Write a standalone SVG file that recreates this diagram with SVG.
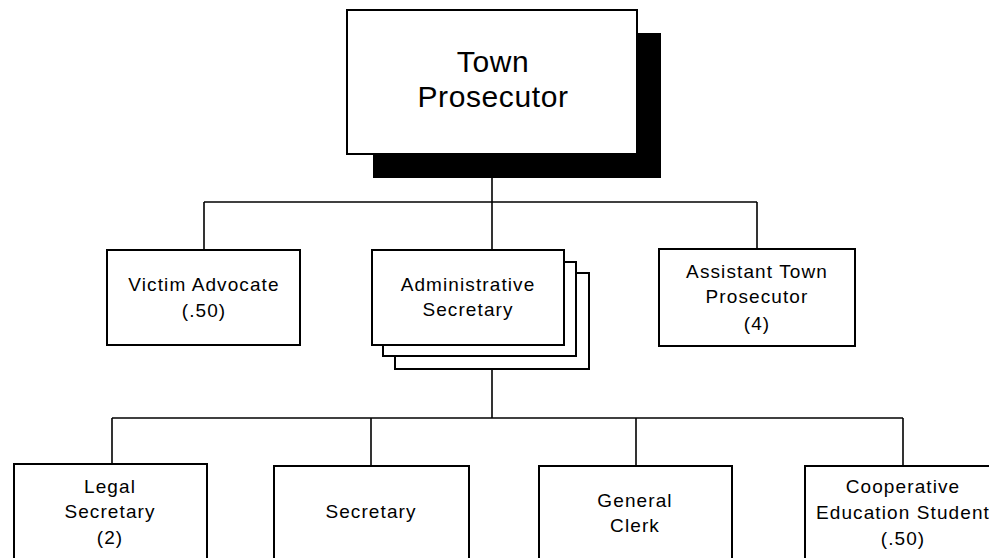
<svg xmlns="http://www.w3.org/2000/svg" width="989" height="558" viewBox="0 0 989 558">
  <style>
    .box { fill: #fff; stroke: #000; stroke-width: 2; }
    .shadow { fill: #000; }
    .conn { fill: none; stroke: #000; stroke-width: 1.6; }
    text { font-family: "Liberation Sans", Arial, Helvetica, sans-serif; fill: #000; text-anchor: middle; }
    .lbl { font-size: 19px; letter-spacing: 1.1px; }
    .title { font-size: 30px; letter-spacing: 0.6px; }
  </style>
  <rect width="989" height="558" fill="#fff"/>

  <!-- connectors -->
  <g id="connectors">
    <line class="conn" x1="492" y1="178" x2="492" y2="250"/>
    <line class="conn" x1="204" y1="202" x2="757" y2="202"/>
    <line class="conn" x1="204" y1="202" x2="204" y2="250"/>
    <line class="conn" x1="757" y1="202" x2="757" y2="249"/>
    <line class="conn" x1="492" y1="369" x2="492" y2="418"/>
    <line class="conn" x1="112" y1="418" x2="903" y2="418"/>
    <line class="conn" x1="112" y1="418" x2="112" y2="464"/>
    <line class="conn" x1="371" y1="418" x2="371" y2="466"/>
    <line class="conn" x1="636" y1="418" x2="636" y2="466"/>
    <line class="conn" x1="903" y1="418" x2="903" y2="466"/>
  </g>

  <!-- top node -->
  <g id="town-prosecutor">
    <rect class="shadow" x="373" y="33" width="288" height="145"/>
    <rect class="box" x="347" y="10" width="290" height="144"/>
    <text class="title" x="493" y="72">Town</text>
    <text class="title" x="493" y="107">Prosecutor</text>
  </g>

  <g id="victim-advocate">
    <rect class="box" x="107" y="250" width="193" height="95"/>
    <text class="lbl" x="204" y="291">Victim Advocate</text>
    <text class="lbl" x="204" y="317">(.50)</text>
  </g>

  <g id="administrative-secretary">
    <rect class="box" x="395" y="273" width="194" height="96"/>
    <rect class="box" x="383" y="262" width="193" height="94"/>
    <rect class="box" x="372" y="250" width="192" height="95"/>
    <text class="lbl" x="468" y="291">Administrative</text>
    <text class="lbl" x="468" y="316">Secretary</text>
  </g>

  <g id="assistant-town-prosecutor">
    <rect class="box" x="659" y="249" width="196" height="97"/>
    <text class="lbl" x="757" y="278">Assistant Town</text>
    <text class="lbl" x="757" y="303">Prosecutor</text>
    <text class="lbl" x="757" y="330">(4)</text>
  </g>

  <g id="legal-secretary">
    <rect class="box" x="14" y="464" width="193" height="110"/>
    <text class="lbl" x="110" y="493">Legal</text>
    <text class="lbl" x="110" y="518">Secretary</text>
    <text class="lbl" x="110" y="544">(2)</text>
  </g>

  <g id="secretary">
    <rect class="box" x="274" y="466" width="195" height="110"/>
    <text class="lbl" x="371" y="518">Secretary</text>
  </g>

  <g id="general-clerk">
    <rect class="box" x="539" y="466" width="193" height="110"/>
    <text class="lbl" x="635" y="507">General</text>
    <text class="lbl" x="635" y="532">Clerk</text>
  </g>

  <g id="cooperative-education-student">
    <rect class="box" x="805" y="466" width="200" height="110"/>
    <text class="lbl" x="903" y="493">Cooperative</text>
    <text class="lbl" x="903" y="519">Education Student</text>
    <text class="lbl" x="903" y="545">(.50)</text>
  </g>
</svg>
